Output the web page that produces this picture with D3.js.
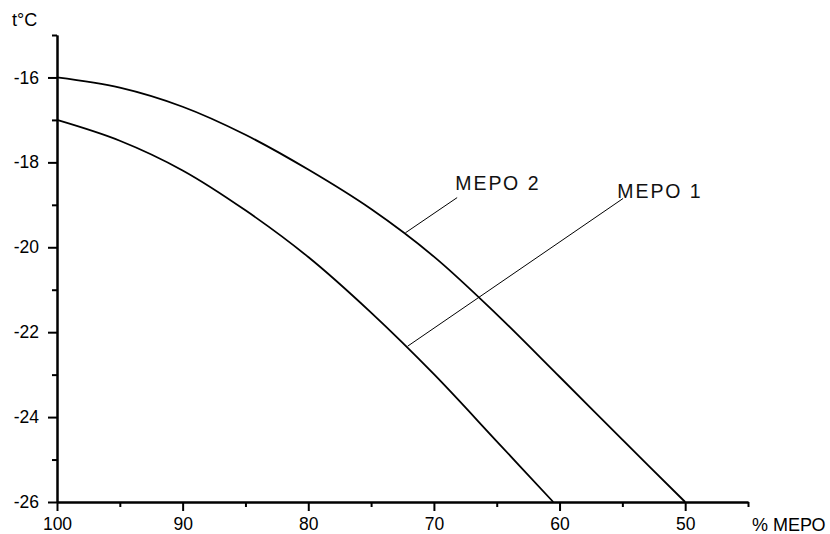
<!DOCTYPE html>
<html>
<head>
<meta charset="utf-8">
<script src="https://cdn.jsdelivr.net/npm/d3@7/dist/d3.min.js"></script>
<style>
    body { margin: 0; background: #fff; overflow: hidden; }
    svg { display: block; font-family: "Liberation Sans", Arial, sans-serif; }
    .axis path, .axis line { stroke: #000; stroke-width: 2px; }
    .axis text { font-size: 17.5px; fill: #000; }
    .line { fill: none; stroke: #000; stroke-width: 1.8px; }
    .leader { stroke: #000; stroke-width: 1px; }
    .label { font-size: 18px; fill: #000; }
    .name { font-size: 19.5px; fill: #111; letter-spacing: 2px; }
</style>
</head>
<body>
<div class="graphContainer"></div>
<script>
// % MEPO in the fuel and freezing temperature
var mepoPercent2 = [100, 95, 90, 85, 80, 75, 70, 65, 60, 55, 50];
var tempMepo2 = [-16, -16.24, -16.69, -17.35, -18.17, -19.10, -20.22, -21.58, -23.05, -24.53, -26];

var mepoPercent1 = [100, 95, 90, 85, 80, 75, 70, 65, 60.5];
var tempMepo1 = [-17, -17.49, -18.19, -19.13, -20.23, -21.54, -22.99, -24.57, -26];

var xMajorTicks = [100, 90, 80, 70, 60, 50];
var xMinorTicks = [95, 85, 75, 65, 55, 45];
var yMajorTicks = [-16, -18, -20, -22, -24, -26];
var yMinorTicks = [-15, -17, -19, -21, -23, -25];

// annotation: name, text position, point on the curve
var labelNames = ["МЕРО 2", "МЕРО 1"];
var labelPos = [[68.3, -18.66], [55.4, -18.83]];
var leaderStart = [[72.27, -19.66], [72.09, -22.33]];
var leaderEnd = [[68.15, -18.83], [54.94, -18.85]];

// Set the dimensions of the canvas / graph
var margin = {top: 35, right: 82, bottom: 32, left: 57},
    width = 830 - margin.left - margin.right,
    height = 534 - margin.top - margin.bottom;

// Set the ranges (x runs from 100 down to 45)
var x = d3.scaleLinear().domain([100, 45]).range([0, width]);
var y = d3.scaleLinear().domain([-26, -15]).range([height, 0]);

var svg = d3.select(".graphContainer")
    .append("svg")
        .attr("width", width + margin.left + margin.right)
        .attr("height", height + margin.top + margin.bottom)
    .append("g")
        .attr("transform", "translate(" + margin.left + "," + margin.top + ")");

// Define the line
var valueline = d3.line()
    .x(function(d) { return x(d[0]); })
    .y(function(d) { return y(d[1]); })
    .curve(d3.curveCatmullRom);

var series = [d3.zip(mepoPercent2, tempMepo2), d3.zip(mepoPercent1, tempMepo1)];

series.forEach(function(s) {
    svg.append("path")
        .attr("class", "line")
        .attr("d", valueline(s));
});

// Leader lines and labels
labelNames.forEach(function(name, i) {
    svg.append("line")
        .attr("class", "leader")
        .attr("x1", x(leaderStart[i][0]))
        .attr("y1", y(leaderStart[i][1]))
        .attr("x2", x(leaderEnd[i][0]))
        .attr("y2", y(leaderEnd[i][1]));
    svg.append("text")
        .attr("class", "name")
        .attr("x", x(labelPos[i][0]))
        .attr("y", y(labelPos[i][1]))
        .text(name);
});

// Minor ticks
svg.append("g")
    .attr("class", "x axis")
    .attr("transform", "translate(0," + height + ")")
    .call(d3.axisBottom(x).tickValues(xMinorTicks).tickSize(5).tickSizeOuter(0).tickFormat(""));

svg.append("g")
    .attr("class", "y axis")
    .call(d3.axisLeft(y).tickValues(yMinorTicks).tickSize(5).tickSizeOuter(0).tickFormat(""));

// Major ticks with labels
svg.append("g")
    .attr("class", "x axis")
    .attr("transform", "translate(0," + height + ")")
    .call(d3.axisBottom(x).tickValues(xMajorTicks).tickSize(9).tickPadding(7).tickSizeOuter(0));

svg.append("g")
    .attr("class", "y axis")
    .call(d3.axisLeft(y).tickValues(yMajorTicks).tickSize(9).tickPadding(9).tickSizeOuter(0)
        .tickFormat(function(d) { return "-" + Math.abs(d); }));

// Axis titles
svg.append("text")
    .attr("class", "label")
    .attr("x", -45)
    .attr("y", -9)
    .text("t°C");

svg.append("text")
    .attr("class", "label")
    .attr("x", x(45) + 4)
    .attr("y", height + 29)
    .text("% МЕРО");
</script>
</body>
</html>
